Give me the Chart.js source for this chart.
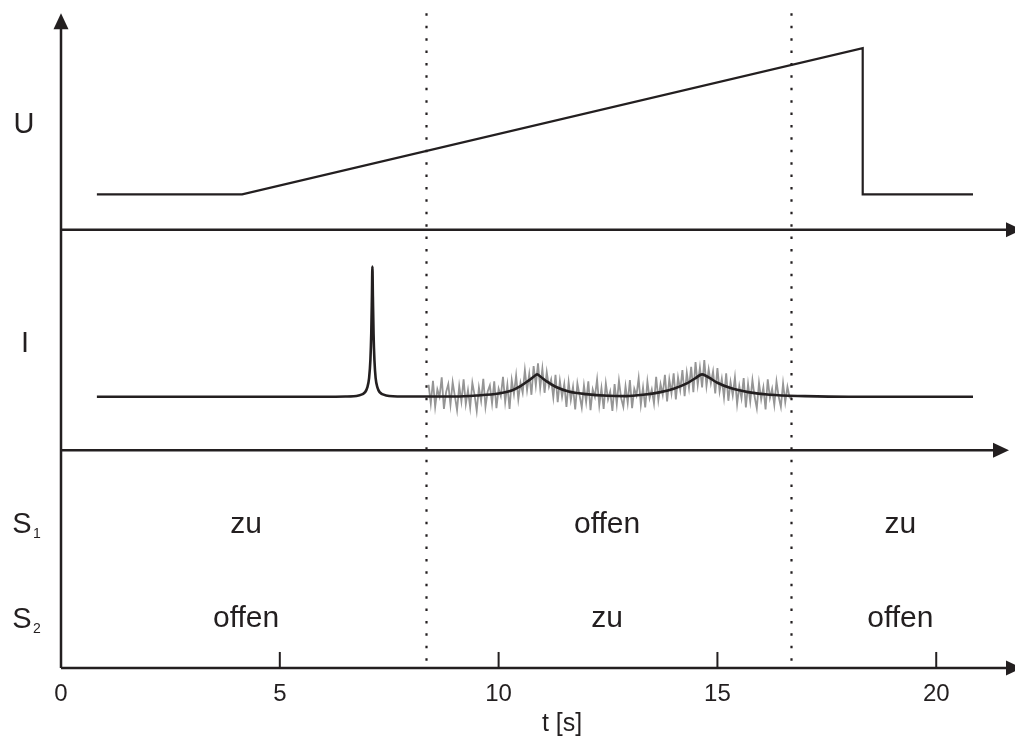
<!DOCTYPE html>
<html>
<head>
<meta charset="utf-8">
<title>U, I und Schalter S1 / S2 über t</title>
<script src="https://cdn.jsdelivr.net/npm/chart.js"></script>
<style>
    body { margin: 0; background: #fff; }
    #box { position: relative; width: 1015px; height: 742px; }
</style>
</head>
<body>
<div id="box"><canvas id="chart"></canvas></div>
<script>
// time axis [s]
var xTicks = [0, 5, 10, 15, 20];
var xMax = 21.8;

// panel zero lines, in y units (0 = bottom axis, 100 = top)
var uZero = 65.6;
var iZero = 32.6;
var yTop = 98;

// U: flat, ramp, drop
var uTime = [0.82, 4.14, 18.32, 18.32, 20.84];
var uVal  = [5.3, 5.3, 27.2, 5.3, 5.3];

// I: smooth curve (black), height above I axis
var iTime = [0.82, 5.5, 6.5, 6.8, 6.95, 7.0, 7.04, 7.07, 7.09, 7.105, 7.116, 7.127, 7.142, 7.162, 7.19, 7.23, 7.28, 7.43, 7.8,
             9.0, 9.5, 10.0, 10.3, 10.5, 10.7, 10.8, 10.88, 10.96, 11.1, 11.3, 11.6, 12.0, 12.5, 12.9, 13.3, 13.7,
             14.0, 14.3, 14.5, 14.65, 14.8, 15.0, 15.3, 15.7, 16.2, 17.0, 18.0, 20.84];
var iVal  = [8.0, 8.0, 8.05, 8.2, 8.7, 9.4, 10.8, 13.5, 17.5, 23.0, 27.5, 23.0, 17.5, 13.5, 10.8, 9.4, 8.7, 8.2, 8.05,
             8.05, 8.2, 8.5, 8.95, 9.6, 10.5, 11.0, 11.35, 11.0, 10.3, 9.5, 8.8, 8.4, 8.15, 8.1, 8.3, 8.7,
             9.2, 10.0, 10.8, 11.35, 10.9, 10.1, 9.3, 8.7, 8.3, 8.1, 8.0, 8.0];

// I: measured signal (grey), sampled every 0.05 s from 8.40 s
var noiseStart = 8.40;
var noiseStep = 0.05;
var noiseVal = [
    9.8, 7.0, 10.4, 6.5, 9.1, 8.0, 10.9, 6.2, 8.7, 9.9,
    6.8, 10.2, 8.1, 6.0, 9.6, 7.3, 10.6, 6.9, 9.0, 6.4,
    10.1, 8.3, 5.9, 9.4, 7.4, 10.7, 6.5, 8.8, 9.7, 7.0,
    10.3, 6.3, 9.2, 8.1, 11.0, 7.2, 9.8, 6.2, 10.5, 8.4,
    11.2, 7.6, 10.1, 8.6, 12.0, 9.0, 11.4, 8.3, 12.6, 9.7,
    13.0, 9.3, 12.2, 8.6, 11.7, 9.5, 10.6, 7.9, 11.3, 7.2,
    10.4, 8.0, 9.9, 6.5, 10.2, 7.5, 9.5, 6.1, 10.0, 8.2,
    6.4, 9.7, 7.2, 10.3, 6.0, 9.1, 8.0, 10.6, 6.7, 9.3,
    6.2, 10.0, 7.6, 8.8, 5.9, 9.9, 6.9, 10.4, 7.8, 6.5,
    9.6, 7.1, 10.5, 6.3, 9.2, 8.2, 10.8, 6.8, 9.4, 6.4,
    10.3, 7.8, 9.1, 7.0, 11.0, 7.5, 9.9, 8.3, 11.3, 7.3,
    10.6, 8.5, 11.5, 7.6, 10.9, 9.0, 12.0, 8.1, 11.6, 9.3,
    12.5, 8.7, 13.2, 9.8, 12.4, 9.4, 13.5, 9.6, 12.1, 10.0,
    11.8, 8.5, 12.3, 8.8, 10.7, 7.9, 11.5, 7.4, 10.2, 8.2,
    10.9, 6.9, 9.6, 7.8, 10.8, 6.4, 9.9, 7.3, 10.5, 8.0,
    6.3, 10.1, 7.6, 9.4, 6.1, 10.6, 7.8, 9.2, 6.8, 10.3,
    8.0, 6.5, 10.0, 7.2, 9.5, 7.9, 7.8
];

// switching instants and switch states
var switchTimes = [8.335, 16.68];
var stateCenter = [4.23, 12.48, 19.18];
var s1States = ['zu', 'offen', 'zu'];
var s2States = ['offen', 'zu', 'offen'];
var s1Line = 20.2;
var s2Line = 6.1;

var ink = '#231f20';
var fontFam = '"Liberation Sans", Arial, Helvetica, sans-serif';

function pts(xs, ys, off) {
    var out = [];
    for (var i = 0; i < xs.length; i++) out.push({ x: xs[i], y: off + ys[i] });
    return out;
}
var noisePts = [];
for (var k = 0; k < noiseVal.length; k++) {
    noisePts.push({ x: noiseStart + k * noiseStep, y: iZero + noiseVal[k] });
}

function arrowHead(ctx, x, y, dir) {
    ctx.beginPath();
    if (dir === 'up') {
        ctx.moveTo(x, y);
        ctx.lineTo(x - 7.5, y + 16);
        ctx.lineTo(x + 7.5, y + 16);
    } else {
        ctx.moveTo(x, y);
        ctx.lineTo(x - 16, y - 7.5);
        ctx.lineTo(x - 16, y + 7.5);
    }
    ctx.closePath();
    ctx.fill();
}

var decor = {
    id: 'decor',
    beforeDatasetsDraw: function(chart) {
        var ctx = chart.ctx, xs = chart.scales.x, ys = chart.scales.y;
        var x0 = xs.getPixelForValue(0);
        ctx.save();
        ctx.strokeStyle = ink;
        ctx.fillStyle = ink;
        ctx.lineWidth = 2.5;
        // vertical axis
        ctx.beginPath();
        ctx.moveTo(x0, ys.getPixelForValue(0));
        ctx.lineTo(x0, ys.getPixelForValue(yTop) + 10);
        ctx.stroke();
        arrowHead(ctx, x0, ys.getPixelForValue(yTop), 'up');
        // horizontal axes: U, I, bottom
        var rows = [[uZero, 1022], [iZero, 1009], [0, 1022]];
        rows.forEach(function(r) {
            var y = ys.getPixelForValue(r[0]);
            ctx.beginPath();
            ctx.moveTo(x0, y);
            ctx.lineTo(r[1] - 10, y);
            ctx.stroke();
            arrowHead(ctx, r[1], y, 'right');
        });
        // tick marks pointing up from the bottom axis
        ctx.lineWidth = 2;
        xTicks.forEach(function(t) {
            if (t === 0) return;
            var x = xs.getPixelForValue(t);
            ctx.beginPath();
            ctx.moveTo(x, ys.getPixelForValue(0));
            ctx.lineTo(x, ys.getPixelForValue(2.4));
            ctx.stroke();
        });
        ctx.restore();
    },
    afterDatasetsDraw: function(chart) {
        var ctx = chart.ctx, xs = chart.scales.x, ys = chart.scales.y;
        var x0 = xs.getPixelForValue(0);
        ctx.save();
        // dotted switching lines
        ctx.strokeStyle = ink;
        ctx.lineWidth = 2.2;
        ctx.setLineDash([2.5, 9.9]);
        switchTimes.forEach(function(t) {
            var x = Math.round(xs.getPixelForValue(t)) + 0.5;
            ctx.beginPath();
            ctx.moveTo(x, ys.getPixelForValue(yTop));
            ctx.lineTo(x, ys.getPixelForValue(0));
            ctx.stroke();
        });
        ctx.setLineDash([]);

        ctx.fillStyle = ink;
        ctx.textBaseline = 'alphabetic';
        // state texts
        ctx.textAlign = 'center';
        ctx.font = '30px ' + fontFam;
        for (var i = 0; i < stateCenter.length; i++) {
            var x = xs.getPixelForValue(stateCenter[i]);
            ctx.fillText(s1States[i], x, ys.getPixelForValue(s1Line));
            ctx.fillText(s2States[i], x, ys.getPixelForValue(s2Line));
        }
        // row labels
        ctx.font = '29px ' + fontFam;
        ctx.fillText('U', x0 - 37, ys.getPixelForValue(80.1));
        ctx.fillText('I', x0 - 36, ys.getPixelForValue(47.3));
        ctx.fillText('S', x0 - 39, ys.getPixelForValue(20.2));
        ctx.fillText('S', x0 - 39, ys.getPixelForValue(6.0));
        ctx.textAlign = 'left';
        ctx.font = '14px ' + fontFam;
        ctx.fillText('1', x0 - 28, ys.getPixelForValue(19.45));
        ctx.fillText('2', x0 - 28, ys.getPixelForValue(5.25));
        // axis title
        ctx.textAlign = 'center';
        ctx.font = '25px ' + fontFam;
        ctx.fillText('t [s]', xs.getPixelForValue(11.45), ys.getPixelForValue(-9.4));
        ctx.restore();
    }
};

var chart = new Chart(document.getElementById('chart').getContext('2d'), {
    type: 'line',
    data: {
        datasets: [
            {
                label: 'I',
                data: pts(iTime, iVal, iZero),
                borderColor: ink,
                borderWidth: 2.6,
                pointRadius: 0,
                cubicInterpolationMode: 'monotone',
                order: 0
            },
            {
                label: 'I Messung',
                data: noisePts,
                borderColor: '#959595',
                borderWidth: 1.8,
                pointRadius: 0,
                tension: 0,
                order: 2
            },
            {
                label: 'U',
                data: pts(uTime, uVal, uZero),
                borderColor: ink,
                borderWidth: 2.2,
                pointRadius: 0,
                tension: 0,
                order: 1
            }
        ]
    },
    options: {
        responsive: true,
        maintainAspectRatio: false,
        animation: false,
        layout: { padding: { left: 61, right: 0, top: 0, bottom: 0 } },
        plugins: {
            legend: { display: false },
            tooltip: { enabled: false }
        },
        scales: {
            x: {
                type: 'linear',
                position: 'bottom',
                min: 0,
                max: xMax,
                grid: { display: false, drawTicks: false },
                border: { display: false },
                ticks: {
                    stepSize: 5,
                    includeBounds: false,
                    autoSkip: false,
                    maxRotation: 0,
                    padding: 12,
                    color: ink,
                    font: { family: fontFam, size: 24 }
                },
                afterFit: function(scale) { scale.height = 74; }
            },
            y: {
                display: false,
                min: 0,
                max: 100
            }
        }
    },
    plugins: [decor]
});
</script>
</body>
</html>
